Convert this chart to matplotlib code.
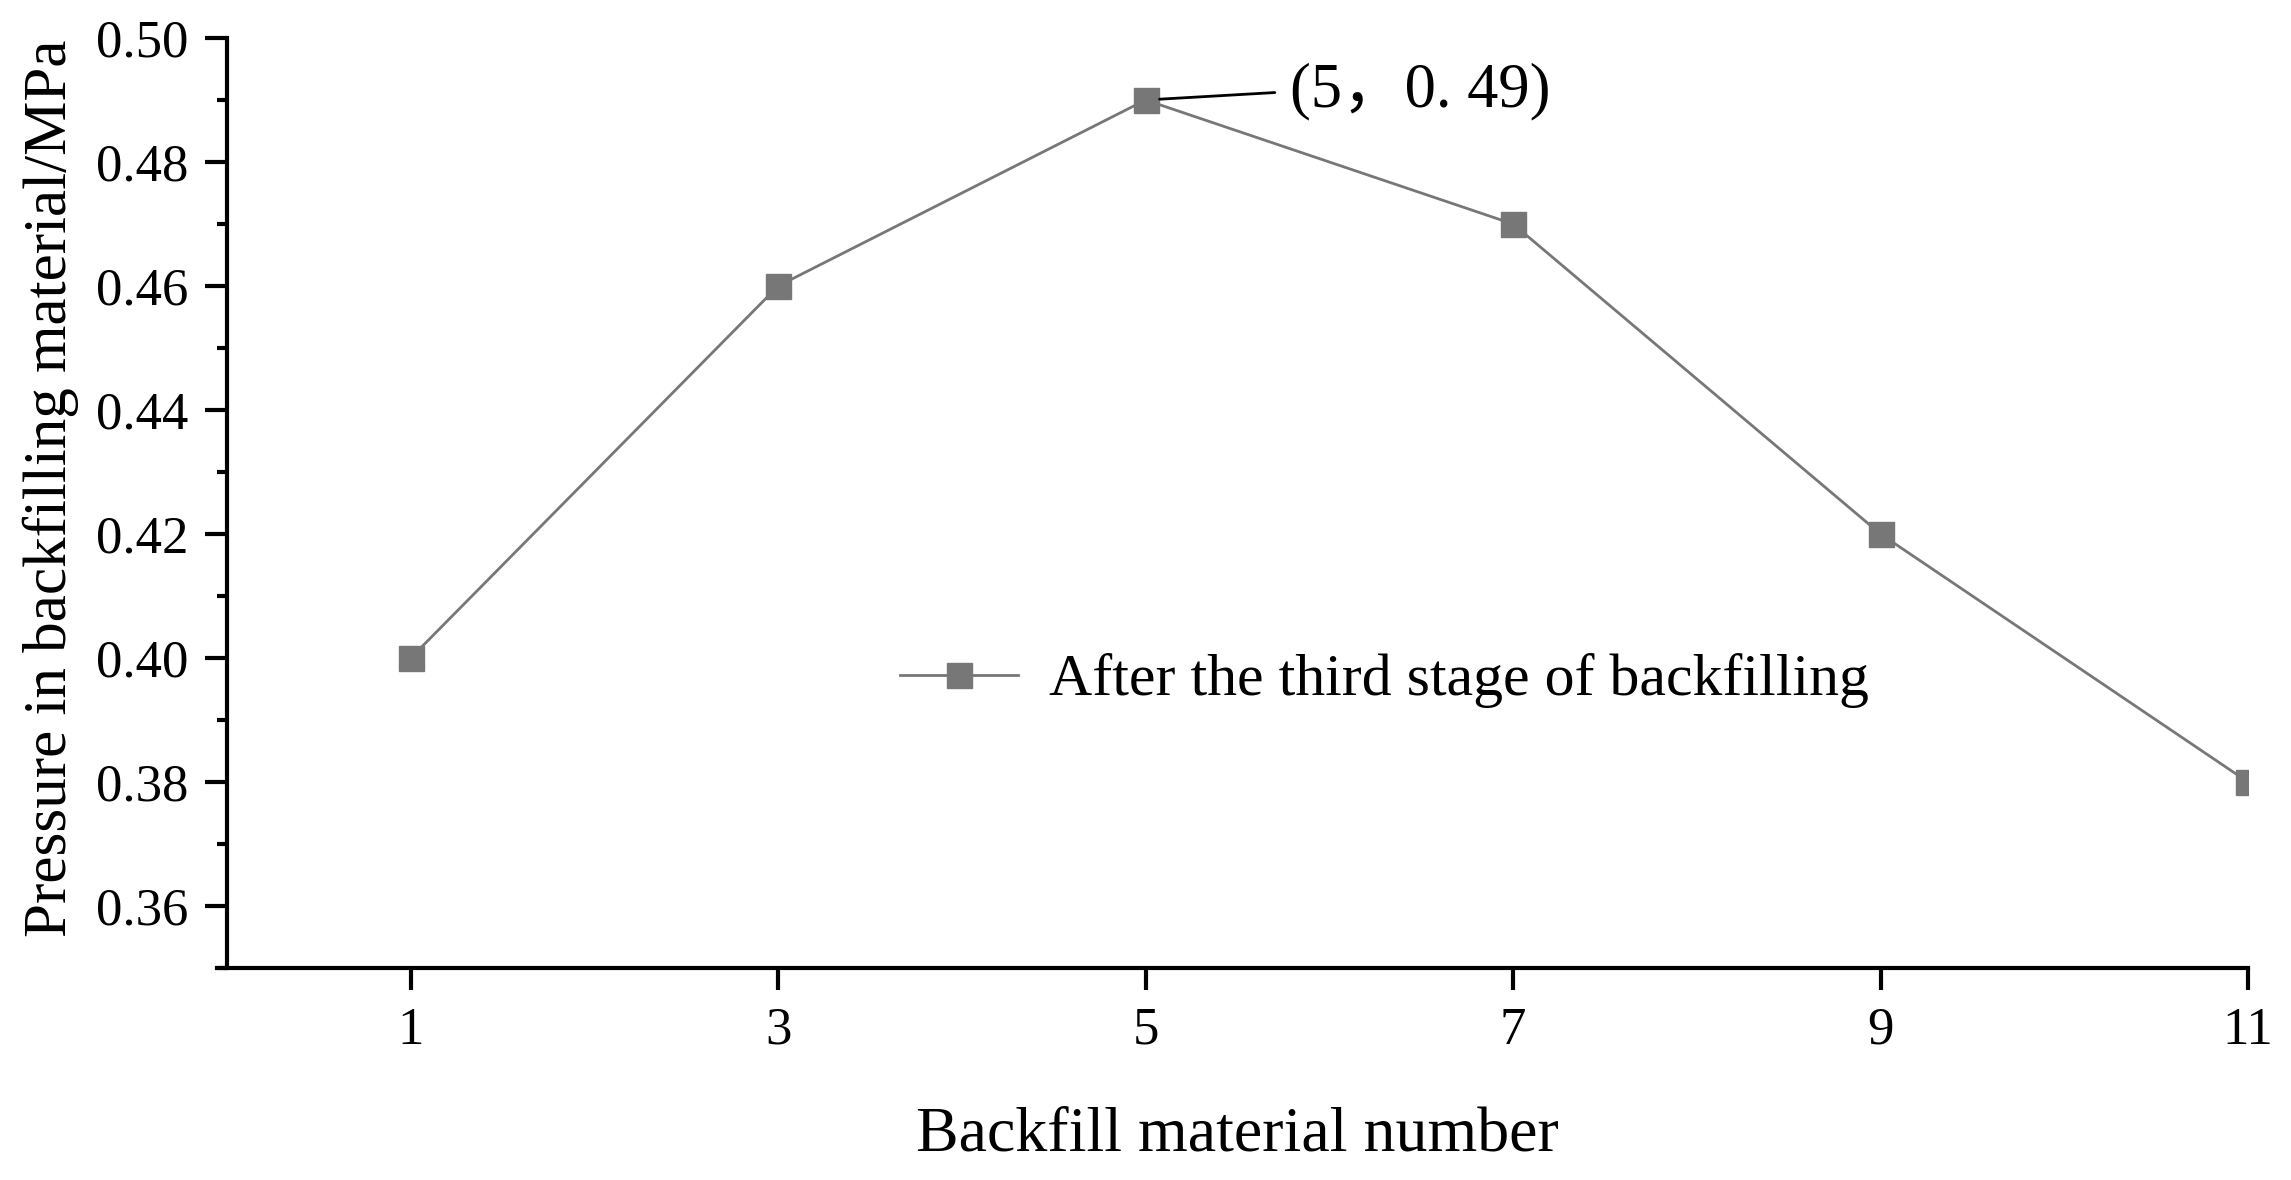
import numpy as np
import matplotlib
matplotlib.use("Agg")
import matplotlib.pyplot as plt
from matplotlib.ticker import MultipleLocator

# data
material_number = [1, 3, 5, 7, 9, 11]
pressure = [0.40, 0.46, 0.49, 0.47, 0.42, 0.38]
series_label = "After the third stage of backfilling"
peak_note = "(5\uff0c0. 49)"

plt.rcParams['font.family'] = ['Liberation Serif', 'Noto Sans CJK SC']

fig = plt.figure(figsize=(22.91, 11.80), dpi=100)
ax = fig.add_axes([227 / 2291, 1 - 968 / 1180, (2248 - 227) / 2291, (968 - 38) / 1180])

gray = '#777777'
ax.plot(material_number, pressure, color=gray, lw=2, marker='s', ms=18,
        mfc=gray, mec=gray, label=series_label)

ax.set_xlim(0, 11)
ax.set_ylim(0.35, 0.50)
ax.set_xticks(material_number)
ax.yaxis.set_major_locator(MultipleLocator(0.02))
ax.yaxis.set_minor_locator(MultipleLocator(0.01))
ax.yaxis.set_major_formatter(matplotlib.ticker.FormatStrFormatter('%.2f'))

for side in ['top', 'right']:
    ax.spines[side].set_visible(False)
for side in ['left', 'bottom']:
    ax.spines[side].set_linewidth(3)
ax.spines['bottom'].set_bounds(-0.055, 11)

ax.tick_params(axis='both', which='major', direction='out', length=16, width=3,
               labelsize=38, pad=12)
ax.tick_params(axis='y', which='minor', direction='out', length=7, width=3)

ax.set_xlabel('Backfill material number', fontsize=46, labelpad=37)
ax.set_ylabel('Pressure in backfilling material/MPa', fontsize=44)
ax.yaxis.set_label_coords(-0.073, 0.516)

ax.annotate(peak_note, xy=(5, 0.49), xytext=(104, 6), textcoords='offset points',
            fontsize=45, va='center', ha='left',
            arrowprops=dict(arrowstyle='-', color='black', lw=2,
                            shrinkA=9, shrinkB=10, relpos=(0, 0.5)))

ax.legend(loc='center left', bbox_to_anchor=(900 / 2291, 1 - 681 / 1180),
          bbox_transform=fig.transFigure, frameon=False, borderpad=0,
          borderaxespad=0, fontsize=43, handlelength=1.98, handletextpad=0.52)

fig.savefig('out.png', dpi=100)
